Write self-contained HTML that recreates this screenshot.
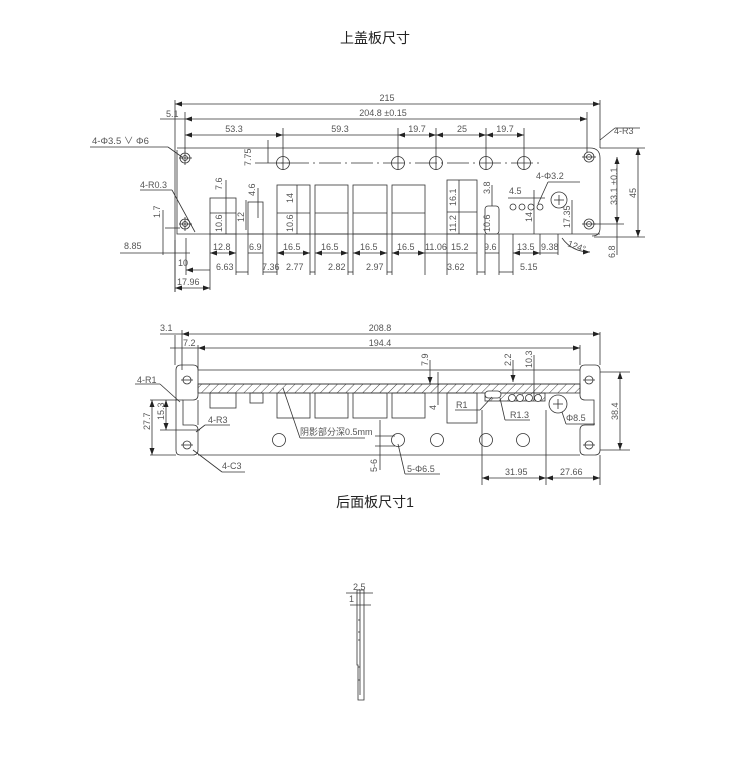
<!DOCTYPE html>
<html><head><meta charset="utf-8"><style>
html,body{margin:0;padding:0;background:#fff;width:750px;height:764px;overflow:hidden}
svg{display:block}
.t{font-family:"Liberation Sans","Noto Sans CJK SC",sans-serif;font-size:9px;fill:#555}
.ti{font-family:"Liberation Sans","Noto Sans CJK SC",sans-serif;font-size:14px;fill:#222}
</style></head><body>
<svg width="750" height="764" viewBox="0 0 750 764" xmlns="http://www.w3.org/2000/svg">
<defs>
<marker id="a" markerWidth="7" markerHeight="5" refX="7" refY="2.5" orient="auto-start-reverse" markerUnits="userSpaceOnUse"><path d="M0,0L7,2.5L0,5z" fill="#222"/></marker>
<pattern id="h" width="6" height="6" patternUnits="userSpaceOnUse" patternTransform="rotate(45)"><line x1="0" y1="0" x2="0" y2="6" stroke="#444" stroke-width="1"/></pattern>
</defs>
<text class="ti" x="375" y="43" text-anchor="middle">上盖板尺寸</text>
<text class="ti" x="375" y="507" text-anchor="middle">后面板尺寸1</text>

<g stroke="#333" stroke-width="0.8" fill="none">
<line x1="175" y1="100" x2="175" y2="292"/>
<path d="M177,150 L177,234 L600,234"/>
<path d="M177,148 L590,148 Q600,148 600,158 L600,228 Q600,236 592,236"/>
<line x1="600" y1="100" x2="600" y2="148"/>
<line x1="587" y1="112" x2="587" y2="152"/>
<line x1="185" y1="112" x2="185" y2="152"/>
<circle cx="185" cy="158" r="5"/><circle cx="185" cy="158" r="2.5"/>
<circle cx="185" cy="224" r="5"/><circle cx="185" cy="224" r="2.5"/>
<circle cx="589" cy="157" r="5"/><circle cx="589" cy="157" r="2.5"/>
<circle cx="589" cy="224" r="5"/><circle cx="589" cy="224" r="2.5"/>
<line x1="185" y1="151" x2="185" y2="165"/><line x1="185" y1="217" x2="185" y2="231"/><line x1="582" y1="157" x2="596" y2="157"/><line x1="582" y1="224" x2="596" y2="224"/>
<circle cx="283" cy="163" r="6.5"/><circle cx="398" cy="163" r="6.5"/><circle cx="436" cy="163" r="6.5"/><circle cx="486" cy="163" r="6.5"/><circle cx="524" cy="163" r="6.5"/>
<line x1="255" y1="163" x2="540" y2="163" stroke-dasharray="22,4,2,4"/>
<line x1="283" y1="128" x2="283" y2="170"/><line x1="398" y1="128" x2="398" y2="170"/><line x1="436" y1="128" x2="436" y2="170"/><line x1="486" y1="128" x2="486" y2="170"/><line x1="524" y1="128" x2="524" y2="170"/>
<line x1="179" y1="158" x2="192" y2="158"/><line x1="179" y1="224" x2="192" y2="224"/><line x1="276" y1="163" x2="290" y2="163"/>
<rect x="210" y="198" width="26" height="36"/><line x1="210" y1="213" x2="236" y2="213"/>
<rect x="248" y="202" width="15" height="32"/>
<rect x="277" y="185" width="33" height="49"/><line x1="277" y1="213" x2="310" y2="213"/>
<rect x="315" y="185" width="33" height="49"/><line x1="315" y1="213" x2="348" y2="213"/>
<rect x="353" y="185" width="34" height="49"/><line x1="353" y1="213" x2="387" y2="213"/>
<rect x="392" y="185" width="33" height="49"/><line x1="392" y1="213" x2="425" y2="213"/>
<rect x="447" y="180" width="30" height="54"/><line x1="447" y1="212" x2="477" y2="212"/>
<rect x="485" y="206" width="14" height="28" rx="3"/>
<circle cx="513" cy="207" r="3"/><circle cx="522" cy="207" r="3"/><circle cx="531" cy="207" r="3"/><circle cx="540" cy="207" r="3"/>
<circle cx="559" cy="200" r="8"/><line x1="554" y1="200" x2="564" y2="200"/><line x1="559" y1="195" x2="559" y2="205"/>
<path d="M562,238 Q572,252 590,252" marker-end="url(#a)"/>
<line x1="175" y1="104" x2="600" y2="104" marker-start="url(#a)" marker-end="url(#a)"/>
<line x1="185" y1="119" x2="587" y2="119" marker-start="url(#a)" marker-end="url(#a)"/>
<line x1="185" y1="135" x2="283" y2="135" marker-start="url(#a)" marker-end="url(#a)"/>
<line x1="283" y1="135" x2="398" y2="135"/>
<line x1="398" y1="135" x2="436" y2="135" marker-start="url(#a)" marker-end="url(#a)"/>
<line x1="436" y1="135" x2="486" y2="135" marker-start="url(#a)" marker-end="url(#a)"/>
<line x1="486" y1="135" x2="524" y2="135" marker-start="url(#a)" marker-end="url(#a)"/>
<line x1="160" y1="119" x2="185" y2="119"/>
<line x1="600" y1="148" x2="645" y2="148"/><line x1="594" y1="237" x2="645" y2="237"/>
<line x1="638" y1="148" x2="638" y2="237" marker-start="url(#a)" marker-end="url(#a)"/>
<line x1="617" y1="157" x2="617" y2="224" marker-start="url(#a)" marker-end="url(#a)"/>
<line x1="594" y1="224" x2="624" y2="224"/>
<line x1="617" y1="224" x2="617" y2="255"/>
<line x1="600" y1="140" x2="615" y2="128"/><line x1="615" y1="128" x2="640" y2="128"/>
<line x1="90" y1="147" x2="168" y2="147"/><line x1="168" y1="147" x2="182" y2="157"/>
<line x1="140" y1="190" x2="172" y2="190"/><line x1="172" y1="190" x2="195" y2="232"/>
<line x1="548" y1="182" x2="580" y2="182"/><line x1="548" y1="182" x2="538" y2="204"/>
<line x1="120" y1="253" x2="190" y2="253"/><line x1="165" y1="228" x2="180" y2="228"/>
<line x1="163" y1="210" x2="163" y2="255"/>
<line x1="226" y1="180" x2="226" y2="234"/><line x1="258" y1="188" x2="258" y2="218"/><line x1="246" y1="200" x2="246" y2="230"/>
<line x1="297" y1="185" x2="297" y2="234"/><line x1="459" y1="180" x2="459" y2="234"/><line x1="492" y1="185" x2="492" y2="206"/>
<line x1="534" y1="190" x2="534" y2="234"/><line x1="572" y1="200" x2="572" y2="234"/><line x1="508" y1="198" x2="545" y2="198"/>
<line x1="268" y1="163" x2="268" y2="140"/>
<g>
<line x1="175" y1="240" x2="175" y2="292"/><line x1="186" y1="238" x2="186" y2="275"/><line x1="210" y1="234" x2="210" y2="290"/><line x1="236" y1="234" x2="236" y2="275"/>
<line x1="248" y1="234" x2="248" y2="275"/><line x1="263" y1="234" x2="263" y2="275"/><line x1="277" y1="234" x2="277" y2="275"/><line x1="310" y1="234" x2="310" y2="275"/>
<line x1="315" y1="234" x2="315" y2="275"/><line x1="348" y1="234" x2="348" y2="275"/><line x1="353" y1="234" x2="353" y2="275"/><line x1="387" y1="234" x2="387" y2="275"/>
<line x1="392" y1="234" x2="392" y2="275"/><line x1="425" y1="234" x2="425" y2="275"/><line x1="447" y1="234" x2="447" y2="275"/><line x1="477" y1="234" x2="477" y2="275"/>
<line x1="485" y1="234" x2="485" y2="275"/><line x1="499" y1="234" x2="499" y2="275"/><line x1="513" y1="234" x2="513" y2="275"/><line x1="540" y1="234" x2="540" y2="255"/><line x1="558" y1="234" x2="558" y2="255"/>
<line x1="210" y1="253" x2="236" y2="253" marker-start="url(#a)" marker-end="url(#a)"/>
<line x1="248" y1="253" x2="263" y2="253"/><line x1="277" y1="253" x2="310" y2="253" marker-start="url(#a)" marker-end="url(#a)"/>
<line x1="315" y1="253" x2="348" y2="253" marker-start="url(#a)" marker-end="url(#a)"/><line x1="353" y1="253" x2="387" y2="253" marker-start="url(#a)" marker-end="url(#a)"/>
<line x1="392" y1="253" x2="425" y2="253" marker-start="url(#a)" marker-end="url(#a)"/><line x1="425" y1="253" x2="447" y2="253"/><line x1="447" y1="253" x2="477" y2="253"/>
<line x1="485" y1="253" x2="499" y2="253"/><line x1="513" y1="253" x2="540" y2="253" marker-start="url(#a)" marker-end="url(#a)"/><line x1="540" y1="253" x2="558" y2="253"/>
<line x1="186" y1="270" x2="210" y2="270" marker-start="url(#a)"/><line x1="236" y1="272" x2="248" y2="272"/><line x1="263" y1="272" x2="277" y2="272"/>
<line x1="310" y1="272" x2="315" y2="272"/><line x1="348" y1="272" x2="353" y2="272"/><line x1="387" y1="272" x2="392" y2="272"/><line x1="477" y1="272" x2="485" y2="272"/><line x1="499" y1="272" x2="513" y2="272"/>
<line x1="175" y1="288" x2="210" y2="288" marker-start="url(#a)" marker-end="url(#a)"/>
</g>

<path d="M183,365 L193,365 Q198,365 198,370 L198,395 Q198,400 193,400 L183,400 L183,425 L193,425 Q198,425 198,430 L198,450 Q198,455 193,455 L180,455 Q176,455 176,450 L176,370 Q176,365 181,365 Z"/>
<path d="M590,365 L595,365 Q600,365 600,370 L600,450 Q600,455 595,455 L585,455 Q580,455 580,450 L580,430 Q580,425 585,425 L594,425 L594,400 L585,400 Q580,400 580,395 L580,370 Q580,365 585,365 Z"/>
<line x1="198" y1="370" x2="580" y2="370"/><line x1="198" y1="384" x2="580" y2="384"/>
<line x1="198" y1="400" x2="198" y2="425"/><line x1="198" y1="455" x2="580" y2="455"/>
<rect x="198" y="384" width="382" height="9" fill="url(#h)"/>
<rect x="485" y="393" width="60" height="8" fill="url(#h)"/>
<circle cx="187" cy="380" r="4"/><circle cx="187" cy="445" r="4"/><circle cx="589" cy="380" r="4"/><circle cx="589" cy="445" r="4"/>
<line x1="181" y1="380" x2="193" y2="380"/><line x1="181" y1="445" x2="193" y2="445"/><line x1="583" y1="380" x2="595" y2="380"/><line x1="583" y1="445" x2="595" y2="445"/>
<rect x="210" y="393" width="26" height="15"/><rect x="250" y="393" width="13" height="10"/>
<rect x="277" y="393" width="33" height="25"/><rect x="315" y="393" width="33" height="25"/><rect x="353" y="393" width="34" height="25"/><rect x="392" y="393" width="33" height="25"/>
<rect x="447" y="393" width="30" height="30"/>
<rect x="485" y="391" width="16" height="7" rx="3.5" fill="#fff"/>
<circle cx="512" cy="398" r="3.5" fill="#fff"/><circle cx="520" cy="398" r="3.5" fill="#fff"/><circle cx="529" cy="398" r="3.5" fill="#fff"/><circle cx="538" cy="398" r="3.5" fill="#fff"/>
<circle cx="558" cy="404" r="9"/><line x1="553" y1="404" x2="563" y2="404"/><line x1="558" y1="399" x2="558" y2="409"/>
<circle cx="279" cy="440" r="6.5"/><circle cx="398" cy="440" r="6.5"/><circle cx="437" cy="440" r="6.5"/><circle cx="486" cy="440" r="6.5"/><circle cx="523" cy="440" r="6.5"/>
<line x1="175" y1="335" x2="175" y2="365"/><line x1="182" y1="330" x2="182" y2="370"/><line x1="198" y1="345" x2="198" y2="370"/><line x1="600" y1="332" x2="600" y2="365"/><line x1="580" y1="345" x2="580" y2="365"/>
<line x1="182" y1="334" x2="600" y2="334" marker-start="url(#a)" marker-end="url(#a)"/><line x1="160" y1="334" x2="182" y2="334"/>
<line x1="198" y1="348" x2="580" y2="348" marker-start="url(#a)" marker-end="url(#a)"/><line x1="170" y1="348" x2="198" y2="348"/>
<line x1="430" y1="360" x2="430" y2="384" marker-end="url(#a)"/><line x1="438" y1="372" x2="438" y2="405"/>
<line x1="513" y1="360" x2="513" y2="382" marker-end="url(#a)"/><line x1="534" y1="355" x2="534" y2="400"/>
<line x1="600" y1="372" x2="630" y2="372"/><line x1="600" y1="450" x2="630" y2="450"/><line x1="620" y1="372" x2="620" y2="450" marker-start="url(#a)" marker-end="url(#a)"/>
<line x1="150" y1="400" x2="183" y2="400"/><line x1="150" y1="455" x2="176" y2="455"/>
<line x1="152" y1="400" x2="152" y2="455" marker-start="url(#a)" marker-end="url(#a)"/>
<line x1="166" y1="400" x2="166" y2="430" marker-start="url(#a)" marker-end="url(#a)"/><line x1="160" y1="430" x2="200" y2="430"/>
<line x1="135" y1="384" x2="160" y2="384"/><line x1="160" y1="384" x2="180" y2="402"/>
<line x1="205" y1="425" x2="230" y2="425"/><line x1="205" y1="425" x2="196" y2="432"/>
<line x1="193" y1="450" x2="222" y2="472"/><line x1="222" y1="472" x2="245" y2="472"/>
<line x1="283" y1="388" x2="300" y2="438"/><line x1="300" y1="438" x2="365" y2="438"/>
<line x1="380" y1="420" x2="380" y2="470"/><line x1="375" y1="436" x2="395" y2="436"/><line x1="375" y1="446" x2="395" y2="446"/>
<line x1="398" y1="444" x2="405" y2="474"/><line x1="405" y1="474" x2="440" y2="474"/>
<line x1="455" y1="410" x2="480" y2="410"/><line x1="480" y1="410" x2="492" y2="397"/>
<line x1="500" y1="398" x2="505" y2="420"/><line x1="505" y1="420" x2="530" y2="420"/>
<line x1="562" y1="412" x2="566" y2="424"/><line x1="566" y1="424" x2="595" y2="424"/>
<line x1="482" y1="410" x2="482" y2="485"/><line x1="546" y1="410" x2="546" y2="485"/><line x1="600" y1="455" x2="600" y2="485"/>
<line x1="482" y1="478" x2="546" y2="478" marker-start="url(#a)" marker-end="url(#a)"/>
<line x1="546" y1="478" x2="600" y2="478" marker-start="url(#a)" marker-end="url(#a)"/>

<path d="M357,590 L364,590 L364,700 L358,700 L358,665 L357,665 Z"/>
<line x1="360" y1="590" x2="360" y2="695"/>
<line x1="358" y1="620" x2="360" y2="620"/><line x1="358" y1="632" x2="360" y2="632"/><line x1="358" y1="640" x2="360" y2="640"/><line x1="358" y1="667" x2="360" y2="667"/><line x1="358" y1="680" x2="360" y2="680"/>
<line x1="346" y1="593" x2="373" y2="593"/><line x1="350" y1="605" x2="371" y2="605"/>
</g>

<g class="t">
<text x="387" y="101" text-anchor="middle">215</text>
<text x="383" y="116" text-anchor="middle">204.8 ±0.15</text>
<text x="166" y="117">5.1</text>
<text x="234" y="132" text-anchor="middle">53.3</text>
<text x="340" y="132" text-anchor="middle">59.3</text>
<text x="417" y="132" text-anchor="middle">19.7</text>
<text x="462" y="132" text-anchor="middle">25</text>
<text x="505" y="132" text-anchor="middle">19.7</text>
<text x="614" y="134">4-R3</text>
<text x="92" y="144" font-size="9.5">4-Φ3.5 ∨ Φ6</text>
<text x="140" y="188">4-R0.3</text>
<text x="536" y="179">4-Φ3.2</text>
<text x="509" y="194">4.5</text>
<text x="124" y="249">8.85</text>
<text x="178" y="266">10</text>
<text x="177" y="285">17.96</text>
<text x="213" y="250">12.8</text><text x="249" y="250">6.9</text><text x="283" y="250">16.5</text><text x="321" y="250">16.5</text><text x="360" y="250">16.5</text><text x="397" y="250">16.5</text><text x="425" y="250">11.06</text><text x="451" y="250">15.2</text><text x="484" y="250">9.6</text><text x="517" y="250">13.5</text><text x="541" y="250">9.38</text>
<text x="216" y="270">6.63</text><text x="262" y="270">7.36</text><text x="286" y="270">2.77</text><text x="328" y="270">2.82</text><text x="366" y="270">2.97</text><text x="447" y="270">3.62</text><text x="520" y="270">5.15</text>
<text x="567" y="246" transform="rotate(20 567 246)">124°</text>
<text transform="translate(251,166) rotate(-90)">7.75</text>
<text transform="translate(222,190) rotate(-90)">7.6</text>
<text transform="translate(222,232) rotate(-90)">10.6</text>
<text transform="translate(255,196) rotate(-90)">4.6</text>
<text transform="translate(244,222) rotate(-90)">12</text>
<text transform="translate(293,203) rotate(-90)">14</text>
<text transform="translate(293,232) rotate(-90)">10.6</text>
<text transform="translate(456,206) rotate(-90)">16.1</text>
<text transform="translate(456,232) rotate(-90)">11.2</text>
<text transform="translate(490,194) rotate(-90)">3.8</text>
<text transform="translate(490,232) rotate(-90)">10.6</text>
<text transform="translate(532,222) rotate(-90)">14</text>
<text transform="translate(570,228) rotate(-90)">17.35</text>
<text transform="translate(617,205) rotate(-90)">33.1 ±0.1</text>
<text transform="translate(636,198) rotate(-90)">45</text>
<text transform="translate(615,258) rotate(-90)">6.8</text>
<text transform="translate(160,218) rotate(-90)">1.7</text>

<text x="160" y="331">3.1</text>
<text x="380" y="331" text-anchor="middle">208.8</text>
<text x="183" y="346">7.2</text>
<text x="380" y="346" text-anchor="middle">194.4</text>
<text x="137" y="383">4-R1</text>
<text x="208" y="423">4-R3</text>
<text x="222" y="469">4-C3</text>
<text x="300" y="435">阴影部分深0.5mm</text>
<text x="407" y="472">5-Φ6.5</text>
<text x="456" y="408">R1</text>
<text x="510" y="418">R1.3</text>
<text x="566" y="421">Φ8.5</text>
<text x="505" y="475">31.95</text>
<text x="560" y="475">27.66</text>
<text transform="translate(428,366) rotate(-90)">7.9</text>
<text transform="translate(436,410) rotate(-90)">4</text>
<text transform="translate(511,366) rotate(-90)">2.2</text>
<text transform="translate(532,368) rotate(-90)">10.3</text>
<text transform="translate(618,420) rotate(-90)">38.4</text>
<text transform="translate(150,430) rotate(-90)">27.7</text>
<text transform="translate(164,420) rotate(-90)">15.3</text>
<text transform="translate(377,472) rotate(-90)">5-6</text>
<text x="353" y="590">2.5</text>
<text x="349" y="602">1</text>
</g>
</svg>
</body></html>
